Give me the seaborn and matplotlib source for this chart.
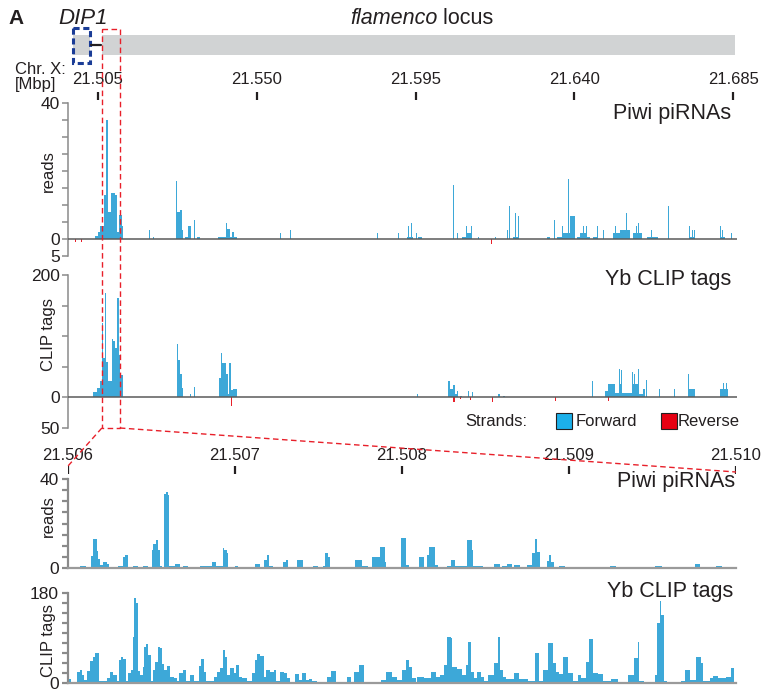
"""flamenco locus: Piwi piRNAs and Yb CLIP tags, whole locus and zoom-in"""
import numpy as np
import matplotlib
matplotlib.use('Agg')
import matplotlib.pyplot as plt
from matplotlib.patches import Rectangle
import seaborn as sns

W, H = 761, 692

# ---- annotation (Mbp) ----
dip1_gene = (21.4979, 21.5027)
dip1_link = (21.5030, 21.5059)
flam_locus = (21.5061, 21.6856)
zoom_box = (21.5061, 21.5112)
top_ticks = [21.505, 21.550, 21.595, 21.640, 21.685]
zoom_ticks = [21.506, 21.507, 21.508, 21.509, 21.510]
zoom_start_bp = 21506000

# ---- whole locus tracks: (start Mbp, end Mbp, value) ----
piwi_fwd = [
    (21.50415, 21.50509, 1), (21.50509, 21.50557, 2), (21.50557, 21.50679, 3.7),
    (21.50679, 21.50727, 13), (21.50727, 21.50783, 35), (21.50783, 21.50868, 8),
    (21.50868, 21.50982, 13.7), (21.50982, 21.5103, 13), (21.5103, 21.51104, 2),
    (21.51104, 21.51172, 7), (21.51172, 21.51217, 3.7),
    (21.51945, 21.51975, 2.8), (21.52059, 21.52089, 0.7),
    (21.52711, 21.52739, 17), (21.52739, 21.52824, 8), (21.52824, 21.52872, 8.7),
    (21.52872, 21.52917, 2.8), (21.52966, 21.53059, 0.7), (21.53059, 21.53127, 3.7),
    (21.53221, 21.53258, 5.6), (21.53297, 21.53391, 0.7),
    (21.53901, 21.54119, 0.7), (21.54119, 21.54147, 4.7), (21.54147, 21.54241, 3),
    (21.54241, 21.54297, 0.7), (21.54297, 21.54354, 2), (21.54354, 21.54439, 0.7),
    (21.55658, 21.55688, 1.7), (21.55941, 21.55971, 2.7), (21.58407, 21.58437, 1.7),
    (21.59002, 21.59032, 1.7),
    (21.59257, 21.59285, 0.7), (21.59285, 21.59313, 3.7), (21.59313, 21.5937, 0.7),
    (21.5937, 21.59398, 4.6), (21.59398, 21.59427, 0.7),
    (21.59512, 21.5954, 1.7), (21.59569, 21.59682, 0.7),
    (21.60561, 21.60589, 15.8), (21.60674, 21.60702, 1.7),
    (21.60816, 21.6093, 0.7), (21.6093, 21.60958, 3.7), (21.60958, 21.61071, 1.7),
    (21.61071, 21.61099, 3.7), (21.61269, 21.61297, 0.7), (21.61751, 21.61779, 0.7),
    (21.62091, 21.62119, 2.7), (21.62148, 21.62176, 9.6),
    (21.62261, 21.62318, 0.7), (21.62318, 21.62346, 7.7), (21.62346, 21.62403, 0.7),
    (21.62403, 21.62431, 6.9),
    (21.63225, 21.6331, 0.7), (21.63423, 21.63451, 5.6),
    (21.63508, 21.6365, 0.7), (21.6365, 21.63678, 3.7), (21.63678, 21.63806, 1.7),
    (21.63806, 21.63834, 17.8), (21.63834, 21.63876, 1.7), (21.63876, 21.64018, 6.9),
    (21.64075, 21.6416, 0.7), (21.6416, 21.64245, 1.7), (21.64245, 21.64273, 3.7),
    (21.64273, 21.6433, 1.7), (21.6433, 21.64358, 3.7), (21.64358, 21.64443, 0.7),
    (21.64528, 21.64641, 0.7), (21.64641, 21.64669, 3.7), (21.64812, 21.6484, 2.7),
    (21.65095, 21.65152, 1.7), (21.65152, 21.6518, 3.7), (21.6518, 21.65293, 1.7),
    (21.65293, 21.65464, 2.7), (21.65464, 21.65492, 7.7), (21.65492, 21.65576, 2.7),
    (21.65662, 21.65747, 1.7), (21.65747, 21.65775, 3.7), (21.65775, 21.65804, 1.7),
    (21.65804, 21.65832, 4.6), (21.65832, 21.65917, 1.7),
    (21.66059, 21.66172, 0.7), (21.66172, 21.662, 2.7), (21.662, 21.6637, 0.7),
    (21.66654, 21.66682, 9.6),
    (21.67249, 21.67277, 3.7), (21.67277, 21.67334, 0.7), (21.67334, 21.67362, 2.7),
    (21.67362, 21.6739, 0.7), (21.6739, 21.67419, 2.7),
    (21.68127, 21.68155, 3.7), (21.68155, 21.68184, 0.7), (21.68184, 21.68212, 2.7),
    (21.68212, 21.68269, 0.7), (21.68439, 21.68467, 1.7),
]
piwi_rev = [(21.49848, 21.49876, 1), (21.50018, 21.50046, 1), (21.61638, 21.61666, 1.5)]

clip_fwd = [
    (21.5035, 21.50463, 9), (21.50463, 21.50557, 15), (21.50557, 21.50605, 27),
    (21.50605, 21.50633, 121), (21.50633, 21.50707, 64), (21.50707, 21.50735, 170),
    (21.50735, 21.50792, 58), (21.50792, 21.50888, 26), (21.50888, 21.50934, 96),
    (21.50934, 21.50982, 92), (21.50982, 21.5103, 80), (21.5103, 21.51087, 163),
    (21.51087, 21.51124, 69), (21.51124, 21.512, 37),
    (21.5273, 21.52776, 87), (21.52776, 21.52824, 61), (21.52824, 21.52872, 39),
    (21.52872, 21.52917, 15), (21.53107, 21.53135, 5), (21.53229, 21.53257, 17),
    (21.53929, 21.53986, 31), (21.53986, 21.54023, 72), (21.54023, 21.54119, 56),
    (21.54119, 21.54176, 39), (21.54176, 21.54221, 5), (21.54221, 21.54261, 57),
    (21.54261, 21.54334, 12), (21.54334, 21.54431, 14),
    (21.59532, 21.59577, 5),
    (21.60428, 21.60476, 26), (21.60476, 21.6057, 14), (21.6057, 21.60618, 21),
    (21.60618, 21.60674, 5), (21.60674, 21.60711, 11), (21.60759, 21.60816, 3),
    (21.60986, 21.61014, 11), (21.611, 21.61128, 9),
    (21.61845, 21.61893, 5), (21.61987, 21.62035, 3), (21.64491, 21.64519, 26),
    (21.64868, 21.64962, 11), (21.64962, 21.65152, 22), (21.65152, 21.65265, 8),
    (21.65265, 21.65293, 46), (21.65293, 21.6533, 22), (21.6533, 21.65358, 44),
    (21.65358, 21.65625, 8), (21.65625, 21.65662, 42), (21.65662, 21.6569, 22),
    (21.6569, 21.65718, 39), (21.65718, 21.65803, 22), (21.65803, 21.65832, 47),
    (21.65832, 21.65945, 5), (21.65945, 21.66002, 14),
    (21.66039, 21.66067, 28), (21.66158, 21.66186, 14), (21.66399, 21.66427, 14),
    (21.66824, 21.66852, 14), (21.67221, 21.67249, 38), (21.67249, 21.67419, 14),
    (21.68127, 21.68212, 14), (21.68212, 21.6824, 24), (21.6824, 21.68305, 14),
    (21.68305, 21.68333, 24), (21.68333, 21.68362, 14),
]
clip_rev = [(21.54269, 21.54306, 14), (21.6057, 21.60618, 8), (21.60759, 21.60787, 3),
            (21.61043, 21.61071, 5), (21.61657, 21.61703, 7), (21.63451, 21.63479, 6.5),
            (21.64962, 21.6499, 6)]

# ---- zoom-in tracks: (start bp, end bp, value), offsets from zoom_start_bp ----
zoom_piwi = [
    (72, 106, 1), (138, 152, 5.7), (152, 172, 13), (172, 181, 7.7), (181, 192, 4),
    (192, 211, 1.5), (211, 232, 2.7), (232, 247, 1.8), (301, 328, 1), (328, 341, 5.2),
    (341, 358, 6), (358, 362, 3.7), (391, 421, 1), (447, 477, 1), (503, 511, 8.2),
    (511, 527, 11), (527, 537, 12.7), (537, 551, 8.2), (551, 561, 1), (577, 585, 33.5),
    (585, 597, 34), (597, 607, 32.8), (607, 641, 1.2), (641, 671, 1.8), (687, 721, 1),
    (791, 861, 1), (861, 887, 2.7), (887, 927, 1), (927, 936, 9), (936, 951, 8.2),
    (951, 960, 6.7), (1000, 1020, 1), (1120, 1150, 1.9), (1174, 1190, 3.7),
    (1190, 1204, 6), (1204, 1226, 1), (1290, 1306, 3), (1306, 1320, 3.7),
    (1370, 1406, 3.7), (1469, 1499, 1), (1526, 1540, 1), (1540, 1556, 6.7),
    (1556, 1570, 5.2), (1719, 1759, 3.7), (1759, 1799, 1), (1819, 1869, 5.2),
    (1869, 1899, 9.7), (1899, 1905, 3), (1993, 2023, 13.4), (2023, 2042, 1.5),
    (2104, 2134, 5.2), (2149, 2163, 6), (2163, 2198, 9.4), (2198, 2216, 1.5),
    (2268, 2294, 1), (2294, 2318, 3.7), (2318, 2388, 1), (2388, 2418, 12.7),
    (2418, 2428, 8.2), (2428, 2488, 1), (2548, 2584, 1.8), (2598, 2628, 1.2),
    (2628, 2658, 1.8), (2668, 2704, 1.5), (2748, 2778, 1.5), (2778, 2794, 6.7),
    (2794, 2808, 13), (2808, 2824, 7.5), (2866, 2880, 3.4), (2880, 2894, 6),
    (2894, 2910, 3), (2943, 2977, 1), (3247, 3283, 1), (3516, 3556, 1),
    (3756, 3786, 1.9), (3882, 3916, 1),
]
zoom_clip = [
    (0, 16, 6.7), (16, 52, 2), (52, 72, 22), (72, 82, 25), (82, 96, 15), (96, 116, 5),
    (116, 132, 23), (132, 152, 43), (152, 162, 52), (162, 188, 59), (188, 232, 3),
    (232, 252, 9), (252, 272, 21), (272, 292, 15), (292, 308, 3), (308, 316, 45),
    (316, 328, 52), (328, 346, 47), (346, 362, 3), (362, 376, 19), (376, 388, 25),
    (388, 398, 92), (398, 406, 170), (406, 418, 159), (418, 432, 23), (432, 448, 15),
    (448, 458, 32), (458, 468, 72), (468, 482, 77), (482, 496, 55), (496, 508, 3),
    (508, 522, 25), (522, 538, 42), (538, 548, 72), (548, 562, 70), (562, 576, 37),
    (576, 592, 25), (592, 608, 34), (608, 632, 12), (632, 652, 9), (652, 662, 3),
    (662, 688, 19), (688, 708, 25), (708, 728, 3), (728, 756, 15), (756, 782, 3),
    (782, 798, 34), (798, 812, 47), (812, 824, 21), (824, 872, 3), (872, 892, 12),
    (892, 912, 22), (912, 928, 29), (928, 942, 65), (942, 952, 52), (952, 968, 15),
    (968, 992, 30), (992, 1008, 19), (1008, 1024, 35), (1024, 1042, 12), (1042, 1072, 9),
    (1072, 1102, 3), (1102, 1122, 19), (1122, 1132, 45), (1132, 1152, 57), (1152, 1172, 53),
    (1172, 1188, 12), (1188, 1212, 25), (1212, 1232, 22), (1232, 1248, 25), (1248, 1272, 3),
    (1272, 1292, 22), (1292, 1312, 19), (1312, 1332, 9), (1332, 1362, 2), (1362, 1382, 17),
    (1382, 1402, 5), (1402, 1428, 20), (1428, 1442, 5), (1442, 1462, 7), (1462, 1492, 3),
    (1492, 1548, 1.3), (1548, 1572, 12), (1572, 1602, 24), (1602, 1614, 2),
    (1672, 1692, 12), (1692, 1712, 2), (1712, 1742, 22), (1742, 1772, 35), (1772, 1872, 2),
    (1872, 1902, 5), (1902, 1942, 22), (1942, 1972, 12), (1972, 2002, 5), (2002, 2022, 25),
    (2022, 2042, 45), (2042, 2062, 32), (2062, 2082, 9), (2082, 2092, 2), (2092, 2132, 12),
    (2132, 2172, 9), (2172, 2202, 22), (2202, 2228, 12), (2228, 2252, 15), (2252, 2272, 35),
    (2272, 2292, 92), (2292, 2302, 89), (2302, 2332, 32), (2332, 2362, 27), (2362, 2382, 15),
    (2382, 2396, 35), (2396, 2416, 82), (2416, 2432, 22), (2432, 2452, 9), (2452, 2472, 22),
    (2472, 2492, 12), (2492, 2512, 3), (2512, 2552, 15), (2552, 2572, 39), (2572, 2588, 91),
    (2588, 2602, 25), (2602, 2622, 11), (2622, 2672, 7), (2672, 2702, 20), (2702, 2752, 7),
    (2752, 2798, 3), (2798, 2822, 60), (2822, 2846, 3), (2846, 2872, 25), (2872, 2902, 79),
    (2902, 2922, 39), (2922, 2942, 22), (2942, 2962, 17), (2962, 2992, 52), (2992, 3022, 19),
    (3022, 3052, 3), (3052, 3072, 15), (3072, 3102, 9), (3102, 3122, 42), (3122, 3142, 87),
    (3142, 3172, 20), (3172, 3202, 17), (3202, 3252, 3), (3252, 3292, 7), (3292, 3352, 1.5),
    (3352, 3392, 15), (3392, 3412, 49), (3412, 3422, 82), (3422, 3452, 3),
    (3512, 3528, 15), (3528, 3542, 119), (3542, 3552, 163), (3552, 3568, 135), (3568, 3588, 3),
    (3672, 3692, 3), (3692, 3722, 25), (3722, 3762, 5), (3762, 3788, 52), (3788, 3802, 39),
    (3802, 3842, 3), (3842, 3862, 9), (3862, 3892, 13), (3892, 3942, 9), (3942, 3972, 12),
    (3972, 3988, 29),
]

sns.set_style('white')
plt.rcParams['font.family'] = ['Liberation Sans', 'DejaVu Sans']
TXT = '#231f20'
FWD = '#3da8d8'
REV = '#e8202a'
GRAY = '#8a8a8a'

fig = plt.figure(figsize=(W / 100, H / 100), dpi=100)


def px_axes(left, top, right, bottom):
    """Axes placed by pixel edges of the 761x692 canvas"""
    return fig.add_axes([left / W, 1 - bottom / H, (right - left) / W, (bottom - top) / H])


def draw_track(ax, intervals, color, sign=1, scale=1.0, shift=0.0):
    """Coverage intervals drawn as a weighted step histogram (one bin per interval)"""
    starts = np.array([s for s, e, v in intervals]) * scale + shift
    ends = np.array([e for s, e, v in intervals]) * scale + shift
    vals = sign * np.array([v for s, e, v in intervals], dtype=float)
    edges = np.unique(np.concatenate([starts, ends])).tolist()
    sns.histplot(x=(starts + ends) / 2, weights=vals, bins=edges, element='step',
                 fill=True, color=color, alpha=1, linewidth=0, ax=ax)


def style_track(ax, xlim, ylim, ticks, labels, label, label_y, zoom):
    ax.set_xlim(xlim)
    ax.set_ylim(ylim)
    ax.set_yticks(ticks)
    ax.set_yticklabels(labels)
    ax.set_xticks([])
    ax.set_xlabel('')
    ax.set_ylabel(label, fontsize=12, color=TXT)
    ax.yaxis.set_label_coords(-12 / (ax.get_position().width * W), label_y)
    ax.patch.set_alpha(0)
    for side in ['top', 'right']:
        ax.spines[side].set_visible(False)
    lw = 1.6 if zoom else 1.1
    ax.spines['left'].set_color(GRAY)
    ax.spines['left'].set_linewidth(lw)
    if zoom:
        ax.spines['bottom'].set_color('#9a9a9a')
        ax.spines['bottom'].set_linewidth(1.6)
    else:
        ax.spines['bottom'].set_visible(False)
        ax.axhline(0, color='#5a5a5a', lw=1.1, zorder=3)
    ax.tick_params(axis='y', left=True, length=4.5 if zoom else 4, width=lw, color=GRAY,
                   labelcolor=TXT, labelsize=12.5, pad=2)


top_xlim = (21.496498, 21.686093)
zoom_xlim = (21.506, 21.510)

# header: locus annotation and coordinate ruler
ax_head = px_axes(68, 20, 737, 100)
ax_head.set_xlim(top_xlim)
ax_head.set_ylim(100, 20)
ax_head.axis('off')
ax_head.add_patch(Rectangle((flam_locus[0], 35), flam_locus[1] - flam_locus[0], 20,
                            fc='#d1d3d4', ec='none'))
ax_head.add_patch(Rectangle((dip1_gene[0], 35), dip1_gene[1] - dip1_gene[0], 20,
                            fc='#d1d3d4', ec='none'))
ax_head.plot(dip1_link, [44.5, 44.5], color=TXT, lw=1.6)
ax_head.add_patch(Rectangle((dip1_gene[0], 27.5), dip1_gene[1] - dip1_gene[0], 35.5,
                            fill=False, ec='#1a3c96', lw=2.2, ls=(0, (2, 1.2)), clip_on=False))
ax_head.vlines(top_ticks, 92, 100, color=TXT, lw=1.6)
for t in top_ticks:
    ax_head.text(t, 80, f'{t:.3f}', ha='center', va='center', fontsize=12, color=TXT)

# whole-locus Piwi piRNAs
ax_piwi = px_axes(68, 103.3, 737, 256)
draw_track(ax_piwi, piwi_fwd, FWD)
draw_track(ax_piwi, piwi_rev, REV, sign=-1)
style_track(ax_piwi, top_xlim, (-5, 40), range(-5, 41, 5),
            ['5', '0', '', '', '', '', '', '', '', '40'], 'reads', 0.557, False)

# whole-locus Yb CLIP tags
ax_clip = px_axes(68, 275, 737, 428)
draw_track(ax_clip, clip_fwd, FWD)
draw_track(ax_clip, clip_rev, REV, sign=-1)
style_track(ax_clip, top_xlim, (-50, 200), range(-50, 201, 50),
            ['50', '0', '', '', '', '200'], 'CLIP tags', 0.614, False)

# zoom ruler
ax_zr = px_axes(68, 440, 736, 474)
ax_zr.set_xlim(zoom_xlim)
ax_zr.set_ylim(474, 440)
ax_zr.axis('off')
ax_zr.vlines(zoom_ticks, 466, 474, color=TXT, lw=1.6)
for t in zoom_ticks:
    ax_zr.text(t, 456, f'{t:.3f}', ha='center', va='center', fontsize=12, color=TXT,
               clip_on=False)

# zoom Piwi piRNAs
ax_zp = px_axes(68, 479, 736, 568.3)
draw_track(ax_zp, zoom_piwi, FWD, scale=1e-6, shift=zoom_start_bp / 1e6)
style_track(ax_zp, zoom_xlim, (0, 40), range(0, 41, 5),
            ['0', '', '', '', '', '', '', '', '40'], 'reads', 0.586, True)

# zoom Yb CLIP tags
ax_zc = px_axes(68, 592.7, 736, 682.7)
draw_track(ax_zc, zoom_clip, FWD, scale=1e-6, shift=zoom_start_bp / 1e6)
style_track(ax_zc, zoom_xlim, (0, 180), range(0, 181, 20),
            ['0', '', '', '', '', '', '', '', '', '180'], 'CLIP tags', 0.474, True)

# overlay in pixel units for free text, legend and the zoom guides
ov = fig.add_axes([0, 0, 1, 1], zorder=10)
ov.set_xlim(0, W)
ov.set_ylim(H, 0)
ov.axis('off')


def px_x(ax, x):
    return ax.transData.transform((x, 0))[0]


ov.text(8, 18, 'A', fontsize=15, fontweight='bold', color=TXT, va='center')
ov.text(58, 18, 'DIP1', fontsize=16, style='italic', color=TXT, va='center')
t1 = ov.text(350, 18, 'flamenco', fontsize=15.5, style='italic', color=TXT, va='center')
ov.annotate(' locus', xy=(1, 0), xycoords=t1, fontsize=15.5, color=TXT, va='bottom')
ov.text(15, 69, 'Chr. X:', fontsize=12, color=TXT, va='center')
ov.text(15, 84, '[Mbp]', fontsize=12, color=TXT, va='center')

for x_r, y_c, name in [(731, 114, 'Piwi piRNAs'), (731, 280, 'Yb CLIP tags'),
                       (735, 482, 'Piwi piRNAs'), (733, 591, 'Yb CLIP tags')]:
    ov.text(x_r, y_c, name, fontsize=15.5, color=TXT, ha='right', va='center')

ov.text(465, 421, 'Strands:', fontsize=12, color=TXT, va='center')
ov.add_patch(Rectangle((556, 413), 16, 16, fc='#1cb0ea', ec=TXT, lw=0.8))
ov.text(576, 421, 'Forward', fontsize=12, color=TXT, va='center')
ov.add_patch(Rectangle((661, 413), 16, 16, fc='#e60012', ec=TXT, lw=0.8))
ov.text(678, 421, 'Reverse', fontsize=12, color=TXT, va='center')

# red dashed box on the locus and its link to the zoom-in
bx0, bx1 = px_x(ax_piwi, zoom_box[0]), px_x(ax_piwi, zoom_box[1])
zx0, zx1 = px_x(ax_zr, zoom_xlim[0]), px_x(ax_zr, zoom_xlim[1])
dash = dict(color='#e8202a', lw=1.0, ls=(0, (4, 2.5)))
ov.add_patch(Rectangle((bx0, 29), bx1 - bx0, 399, fill=False, ec='#e8202a',
                       lw=1.0, ls=(0, (4, 2.5))))
ov.plot([bx0, zx0], [428, 466], **dash)
ov.plot([bx1, zx1], [428, 472], **dash)

fig.savefig('out.png', dpi=100)
